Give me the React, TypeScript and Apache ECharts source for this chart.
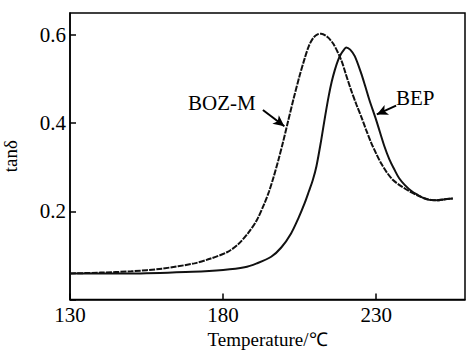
import React, { useEffect, useRef } from "react";
import * as echarts from "echarts";

const bozTemp = [130, 140, 150, 160, 170.6, 176, 181.5, 185, 188.1, 191, 193.5, 195, 196.5, 198, 199.5, 201, 203, 205, 206.6, 208, 209.5, 211, 212, 214, 216, 218.6, 220, 221.8, 223.5, 225.1, 226.7, 228.4, 230, 231.6, 233.5, 235.5, 237.5, 239.3, 241, 243.6, 246, 248, 250, 252, 255];
const bozVal = [0.059, 0.061, 0.064, 0.070, 0.082, 0.093, 0.108, 0.126, 0.150, 0.180, 0.218, 0.245, 0.278, 0.315, 0.355, 0.398, 0.455, 0.508, 0.546, 0.575, 0.594, 0.602, 0.603, 0.596, 0.580, 0.543, 0.513, 0.475, 0.443, 0.415, 0.385, 0.355, 0.331, 0.309, 0.288, 0.271, 0.260, 0.252, 0.245, 0.236, 0.229, 0.226, 0.225, 0.227, 0.229];

const bepTemp = [130, 150, 170, 180, 187, 191, 195.7, 199, 202.2, 204.5, 206.6, 208, 209.3, 210.5, 212, 213.3, 214.5, 215.5, 216.5, 217.5, 218.5, 219.5, 220.2, 221.5, 223, 225.1, 226.5, 227.8, 230, 232.7, 234.3, 236, 237.5, 239.3, 241.5, 243.6, 245.5, 247.4, 250, 252, 255];
const bepVal = [0.059, 0.059, 0.063, 0.067, 0.073, 0.082, 0.097, 0.118, 0.150, 0.183, 0.218, 0.245, 0.271, 0.303, 0.360, 0.415, 0.462, 0.495, 0.521, 0.542, 0.557, 0.567, 0.572, 0.567, 0.552, 0.513, 0.482, 0.452, 0.407, 0.347, 0.318, 0.294, 0.275, 0.260, 0.246, 0.237, 0.230, 0.226, 0.225, 0.227, 0.229];

const xTicks = [130, 180, 230];
const yTicks = [0.2, 0.4, 0.6];
const seriesNames = ["BOZ-M", "BEP"];
const bozArrow = [[193.0, 0.430], [200.0, 0.393]];
const bepArrow = [[236.5, 0.440], [230.2, 0.420]];

const FONT = "Liberation Serif";

export default function App() {
  const ref = useRef<HTMLDivElement>(null);
  useEffect(() => {
    document.body.style.margin = "0";
    const chart = echarts.init(ref.current!, null, { renderer: "svg" });
    const arrowLine = (pts: number[][]) => ({
      silent: true,
      symbol: ["none", "arrow"],
      symbolSize: [8, 11],
      label: { show: false },
      emphasis: { disabled: true },
      lineStyle: { color: "#000", width: 2, type: "solid" },
      data: [[{ coord: pts[0] }, { coord: pts[1] }]],
    });
    chart.setOption({
      animation: false,
      backgroundColor: "#fff",
      grid: {
        left: 70, right: 1, top: 13, bottom: 50.5,
        outerBoundsMode: "none",
        containLabel: false,
        show: true, borderColor: "#000", borderWidth: 1.5, backgroundColor: "transparent",
      },
      xAxis: {
        type: "value",
        min: 130,
        max: 259,
        interval: 50,
        name: "Temperature/℃",
        nameLocation: "middle",
        nameGap: 25,
        nameTextStyle: { fontFamily: FONT, fontSize: 19, color: "#000", verticalAlign: "top" },
        axisLine: { show: true, lineStyle: { color: "#000", width: 1.5 } },
        axisTick: { show: true, inside: true, length: 6, lineStyle: { color: "#000", width: 1.5 } },
        axisLabel: {
          fontFamily: FONT, fontSize: 21, color: "#000", margin: 5,
          showMaxLabel: false,
          formatter: (v: number) => (xTicks.includes(Math.round(v)) ? String(Math.round(v)) : ""),
        },
        splitLine: { show: false },
      },
      yAxis: {
        type: "value",
        min: 0,
        max: 0.65,
        interval: 0.2,
        name: "tanδ",
        nameLocation: "middle",
        nameGap: 50,
        nameTextStyle: { fontFamily: FONT, fontSize: 19, color: "#000" },
        axisLine: { show: true, lineStyle: { color: "#000", width: 1.5 } },
        axisTick: { show: true, inside: true, length: 6, lineStyle: { color: "#000", width: 1.5 } },
        axisLabel: {
          fontFamily: FONT,
          fontSize: 21,
          color: "#000",
          margin: 4,
          showMaxLabel: false,
          formatter: (v: number) => (yTicks.some((t) => Math.abs(t - v) < 1e-6) ? v.toFixed(1) : ""),
        },
        splitLine: { show: false },
      },
      graphic: [
        { type: "text", left: 188, top: 92, style: { text: seriesNames[0], fontFamily: FONT, fontSize: 21, fill: "#000" } },
        { type: "text", left: 396, top: 87, style: { text: seriesNames[1], fontFamily: FONT, fontSize: 21, fill: "#000" } },
      ],
      series: [
        {
          name: seriesNames[0],
          type: "line",
          smooth: 0.3,
          showSymbol: false,
          data: bozTemp.map((t, i) => [t, bozVal[i]]),
          lineStyle: { color: "#111", width: 2, type: [6, 1.2] },
          markLine: arrowLine(bozArrow),
        },
        {
          name: seriesNames[1],
          type: "line",
          smooth: 0.3,
          showSymbol: false,
          data: bepTemp.map((t, i) => [t, bepVal[i]]),
          lineStyle: { color: "#111", width: 2 },
          markLine: arrowLine(bepArrow),
        },
      ],
    });
    return () => chart.dispose();
  }, []);
  return <div ref={ref} style={{ position: "absolute", left: 0, top: 0, width: 466, height: 350 }} />;
}
